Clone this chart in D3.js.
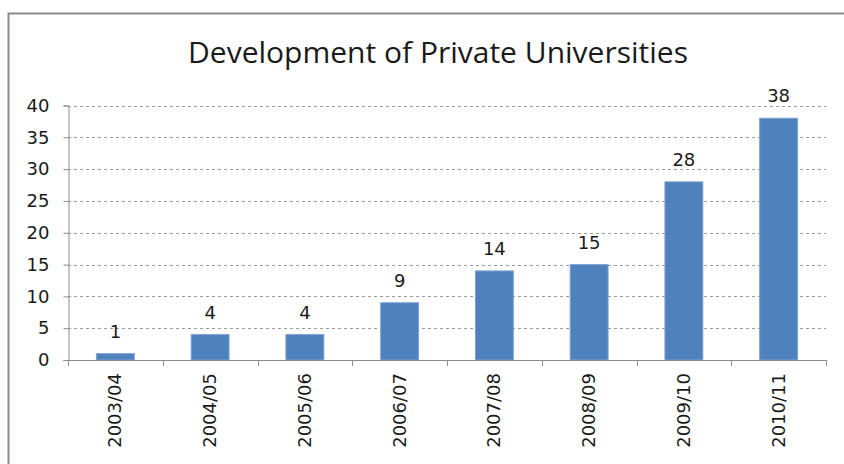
<!DOCTYPE html>
<html>
<head>
<meta charset="utf-8">
<script src="https://cdn.jsdelivr.net/npm/d3@7"></script>
<style>
  body { margin: 0; background: #fff; }
  text { font-family: "DejaVu Sans", "Noto Sans", sans-serif; fill: #1a1a1a; }
</style>
</head>
<body>
<div id="chart"></div>
<script>
// data
const years = ["2003/04", "2004/05", "2005/06", "2006/07", "2007/08", "2008/09", "2009/10", "2010/11"]
const universities = [1, 4, 4, 9, 14, 15, 28, 38]
const yTicks = [0, 5, 10, 15, 20, 25, 30, 35, 40]

const width = 844, height = 464
const plot = { left: 68, right: 826, top: 105.5, bottom: 360 }

const svg = d3.select("#chart").append("svg")
    .attr("width", width)
    .attr("height", height)

// chart frame (left + top visible)
svg.append("path")
    .attr("d", `M8.5,${height}V13.5H${width}`)
    .attr("fill", "none")
    .attr("stroke", "#8a8a8a")
    .attr("stroke-width", 2)

svg.append("text")
    .attr("x", 438)
    .attr("y", 63)
    .attr("text-anchor", "middle")
    .style("font-family", "'Open Sans', sans-serif")
    .style("font-size", "30px")
    .attr("fill", "#111")
    .text("Development of Private Universities")

const x = d3.scaleBand()
    .domain(years)
    .range([plot.left, plot.right])
    .paddingInner(0.6)
    .paddingOuter(0.3)

const y = d3.scaleLinear()
    .domain([0, 40])
    .range([plot.bottom, plot.top])

// dashed gridlines
svg.append("g")
  .selectAll("line")
  .data(yTicks.filter(d => d > 0))
  .join("line")
    .attr("x1", plot.left)
    .attr("x2", plot.right)
    .attr("y1", d => Math.round(y(d)) + 0.5)
    .attr("y2", d => Math.round(y(d)) + 0.5)
    .attr("stroke", "#9a9a9a")
    .attr("stroke-dasharray", "3,3")

// y axis
const yAxis = svg.append("g")
    .attr("transform", `translate(${plot.left + 0.5},0)`)
    .call(d3.axisLeft(y).tickValues(yTicks).tickSize(5).tickPadding(14))
yAxis.select(".domain").attr("stroke", "#8c8c8c")
yAxis.selectAll(".tick line").attr("stroke", "#8c8c8c")
yAxis.selectAll("text")
    .style("font-size", "18px")
    .attr("fill", "#1a1a1a")

// bars
svg.append("g")
  .selectAll("rect")
  .data(universities)
  .join("rect")
    .attr("x", (d, i) => x(years[i]))
    .attr("y", d => y(d))
    .attr("width", x.bandwidth())
    .attr("height", d => y(0) - y(d))
    .attr("fill", "#4f81bd")
    .attr("stroke", "#7fa3d0")
    .attr("stroke-width", 1)

// value labels
svg.append("g")
  .selectAll("text")
  .data(universities)
  .join("text")
    .attr("x", (d, i) => x(years[i]) + x.bandwidth() / 2)
    .attr("y", d => y(d) - 16)
    .attr("text-anchor", "middle")
    .style("font-size", "18px")
    .text(d => d)

// x axis: category boundaries as ticks
const bounds = d3.range(years.length + 1).map(i => plot.left + i * (plot.right - plot.left) / years.length)
const xg = svg.append("g")
xg.append("line")
    .attr("x1", plot.left)
    .attr("x2", plot.right)
    .attr("y1", plot.bottom + 0.5)
    .attr("y2", plot.bottom + 0.5)
    .attr("stroke", "#8c8c8c")
xg.selectAll("line.tk")
  .data(bounds)
  .join("line")
    .attr("class", "tk")
    .attr("x1", d => Math.round(d) + 0.5)
    .attr("x2", d => Math.round(d) + 0.5)
    .attr("y1", plot.bottom)
    .attr("y2", plot.bottom + 6)
    .attr("stroke", "#8c8c8c")

xg.selectAll("text")
  .data(years)
  .join("text")
    .attr("transform", d => `translate(${x(d) + x.bandwidth() / 2 + 6},${plot.bottom + 13}) rotate(-90)`)
    .attr("text-anchor", "end")
    .style("font-size", "18px")
    .text(d => d)
</script>
</body>
</html>
